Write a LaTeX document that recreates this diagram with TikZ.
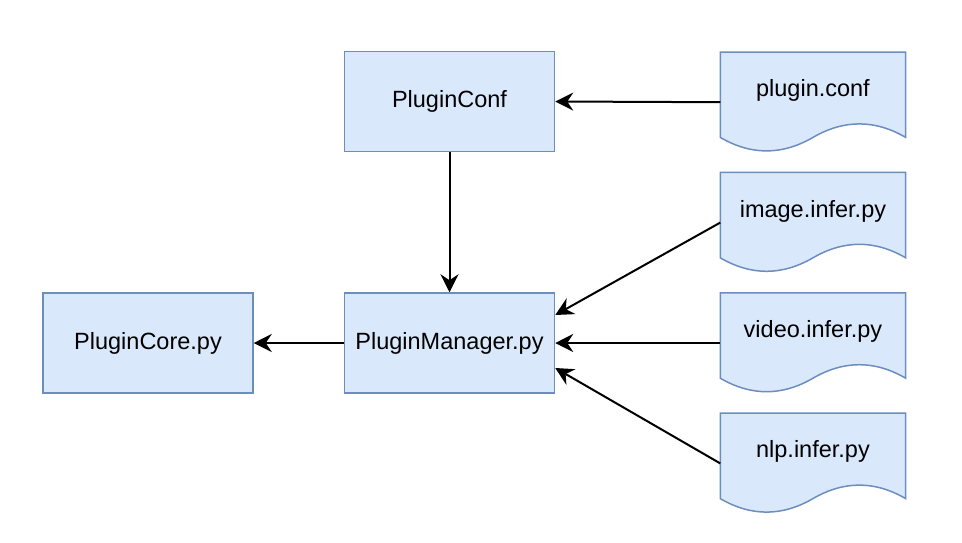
\documentclass[tikz,border=0pt]{standalone}
\usepackage{fontspec}
\setmainfont{Liberation Sans}
\usetikzlibrary{arrows.meta, positioning, backgrounds}

\definecolor{boxfill}{HTML}{DAE8FC}
\definecolor{boxline}{HTML}{6C8EBF}

\begin{document}
\begin{tikzpicture}[
	x=1pt, y=1pt,
	every node/.style={font=\fontsize{23.5}{28}\selectfont},
	module/.style={draw=boxline, fill=boxfill, line width=1.5pt, minimum width=210pt, minimum height=100pt, inner sep=0pt, text height=17pt, text depth=5pt},
	docbox/.style={minimum width=185pt, minimum height=100pt, inner sep=0pt, text height=17pt, text depth=28pt},
	docline/.style={draw=boxline, fill=boxfill, line width=1.5pt},
	arrow/.style={-{Stealth[length=18pt, width=18pt, inset=6pt]}, line width=2pt}
	]
	
	\useasboundingbox (0,0) rectangle (962,-542);
	
	% Modules
	\node[module] (core) at (148,-343) {PluginCore.py};
	\node[module, right=90pt of core] (manager) {PluginManager.py};
	\node[module, above=140pt of manager] (pconf) {PluginConf};
	
	% Files (document shapes)
	\node[docbox, right=165pt of manager] (video) {video.infer.py};
	\node[docbox, above=20pt of video] (image) {image.infer.py};
	\node[docbox, below=20pt of video] (nlp) {nlp.infer.py};
	\node[docbox, above=20pt of image] (conffile) {plugin.conf};
	
	% Wavy outlines behind the file names
	\begin{scope}[on background layer]
	\foreach \d in {conffile, image, video, nlp} {
		\draw[docline] (\d.north west) -- (\d.north east) -- ([yshift=15pt]\d.south east)
			.. controls ([xshift=-30.8pt,yshift=33pt]\d.south east) and ([xshift=-61.7pt,yshift=33pt]\d.south east) .. ([yshift=15pt]\d.south)
			.. controls ([xshift=61.7pt,yshift=-3pt]\d.south west) and ([xshift=30.8pt,yshift=-3pt]\d.south west) .. ([yshift=15pt]\d.south west)
			-- cycle;
	}
	\end{scope}
	
	% Connections
	\draw[arrow] (conffile.west) -- (pconf.east);
	\draw[arrow] (pconf.south) -- (manager.north);
	\draw[arrow] (image.west) -- ([yshift=28pt]manager.east);
	\draw[arrow] (video.west) -- (manager.east);
	\draw[arrow] (nlp.west) -- ([yshift=-25pt]manager.east);
	\draw[arrow] (manager.west) -- (core.east);
	
\end{tikzpicture}
\end{document}
